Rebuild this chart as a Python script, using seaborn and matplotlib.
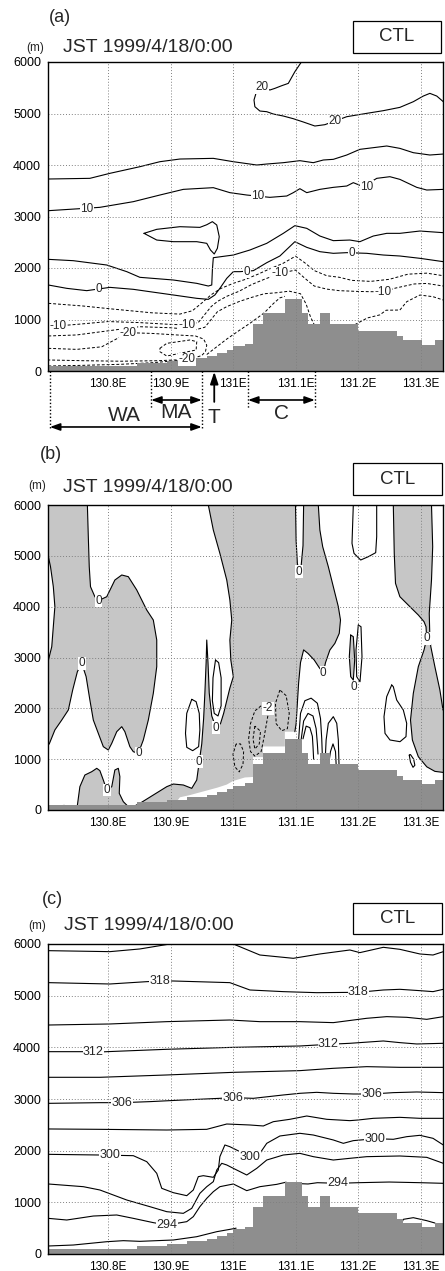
import matplotlib
matplotlib.use("Agg")
import matplotlib.pyplot as plt
from matplotlib.patches import Rectangle
import seaborn as sns

sns.set_theme(style="white")
plt.rcParams["font.family"] = ["Liberation Sans", "DejaVu Sans"]

# ---------------- axes / ticks ----------------
XLIM = (130.704, 131.336)
YLIM = (0, 6000)
XTICKS = [130.8, 130.9, 131.0, 131.1, 131.2, 131.3]
XTICK_LABELS = ["130.8E", "130.9E", "131E", "131.1E", "131.2E", "131.3E"]
YTICKS = [0, 1000, 2000, 3000, 4000, 5000, 6000]
GRID_Y = [1000, 2000, 3000, 4000, 5000]
TITLE = "JST 1999/4/18/0:00"
CASE = "CTL"
PANEL_LETTERS = ["(a)", "(b)", "(c)"]

# ---------------- terrain (step cells) ----------------
TERRAIN_EDGES = [130.704, 130.846, 130.894, 130.926, 130.958, 130.974, 130.990, 131.000,
                 131.019, 131.032, 131.048, 131.083, 131.110, 131.120, 131.139, 131.155,
                 131.200, 131.262, 131.272, 131.302, 131.323, 131.336]
TERRAIN_H = [90, 150, 200, 250, 300, 350, 415, 480, 530, 903, 1117, 1390, 1117, 903,
             1117, 903, 786, 675, 597, 513, 597]

# ---------------- panel (a) contours ----------------
A20_LON = [131.110, 131.099, 131.0885, 131.078, 131.067, 131.059, 131.0485, 131.038, 131.0336,
           131.035, 131.043, 131.054, 131.0645, 131.0805, 131.0965, 131.1125, 131.131, 131.147,
           131.182, 131.214, 131.2405, 131.267, 131.2885, 131.3045, 131.315, 131.326, 131.3365]
A20_H = [6010, 5812, 5585, 5540, 5488, 5456, 5508, 5443, 5262, 5132, 5048, 5035, 4990, 4951,
         4899, 4835, 4757, 4783, 4938, 5003, 5055, 5119, 5229, 5339, 5391, 5339, 5229]
A15_LON = [130.7045, 130.771, 130.803, 130.851, 130.883, 130.915, 130.9685, 131.0005, 131.038,
           131.054, 131.0805, 131.107, 131.1285, 131.1445, 131.1605, 131.182, 131.203, 131.246,
           131.267, 131.2885, 131.315, 131.3365]
A15_H = [3728, 3741, 3838, 3967, 4064, 4116, 4129, 4064, 4000, 4019, 4045, 4084, 4045, 4097,
         4110, 4194, 4304, 4369, 4323, 4239, 4194, 4213]
A10_LON = [130.7045, 130.755, 130.787, 130.8405, 130.883, 130.9205, 130.9685, 130.995, 131.022,
           131.059, 131.086, 131.0965, 131.107, 131.118, 131.139, 131.1605, 131.182, 131.1925,
           131.2085, 131.230, 131.251, 131.267, 131.294, 131.31, 131.3365]
A10_H = [3113, 3152, 3178, 3288, 3417, 3527, 3560, 3463, 3417, 3372, 3398, 3463, 3540, 3463,
         3527, 3566, 3592, 3657, 3579, 3741, 3773, 3721, 3566, 3514, 3527]
A5_LON = [130.7045, 130.7445, 130.798, 130.830, 130.851, 130.9045, 130.942, 130.9605, 130.966,
          130.967, 130.9685, 131.0005, 131.027, 131.054, 131.0805, 131.099, 131.118, 131.139,
          131.1605, 131.187, 131.203, 131.2245, 131.246, 131.267, 131.299, 131.3365]
A5_H = [2168, 2142, 2058, 1929, 1819, 1767, 1702, 1650, 1670, 1961, 2200, 2252, 2349, 2479,
        2673, 2822, 2770, 2621, 2531, 2543, 2511, 2621, 2673, 2673, 2718, 2686]
A5_BLOB_LON = [130.8576, 130.878, 130.915, 130.947, 130.958, 130.967, 130.974, 130.978, 130.975,
               130.970, 130.964, 130.958, 130.942, 130.9045, 130.878, 130.8576]
A5_BLOB_H = [2673, 2751, 2802, 2789, 2840, 2900, 2835, 2608, 2382, 2272, 2349, 2479, 2511,
             2511, 2543, 2673]
A0_LON = [130.7045, 130.734, 130.766, 130.803, 130.8405, 130.867, 130.9045, 130.942, 130.9605,
          130.971, 130.979, 130.990, 131.0005, 131.011, 131.0325, 131.054, 131.075, 131.099,
          131.118, 131.139, 131.1605, 131.182, 131.214, 131.2405, 131.267, 131.299, 131.3365]
A0_H = [1670, 1605, 1560, 1624, 1586, 1540, 1476, 1411, 1391, 1476, 1605, 1799, 1929, 1929,
        1948, 2103, 2233, 2511, 2401, 2317, 2285, 2298, 2285, 2252, 2233, 2188, 2123]
AM5_LON = [130.7045, 130.76, 130.81, 130.87, 130.915, 130.935, 130.95, 130.965, 130.98, 131.0,
           131.02, 131.04, 131.06, 131.08, 131.10, 131.115, 131.13, 131.15, 131.17, 131.19,
           131.22, 131.25, 131.28, 131.31, 131.3365]
AM5_H = [1314, 1262, 1200, 1130, 1105, 1170, 1320, 1480, 1600, 1700, 1780, 1880, 1990, 2090,
         2230, 2100, 1950, 1850, 1820, 1760, 1740, 1780, 1880, 1900, 1850]
AM10_LON = [130.7045, 130.75, 130.80, 130.85, 130.90, 130.93, 130.945, 130.955, 130.965,
            130.975, 130.99, 131.01, 131.03, 131.05, 131.075, 131.10, 131.115, 131.13, 131.15,
            131.17, 131.20, 131.22, 131.24, 131.26, 131.29, 131.31, 131.3365]
AM10_H = [861, 905, 960, 940, 905, 893, 950, 1100, 1250, 1350, 1450, 1550, 1680, 1780, 1896,
          1960, 1800, 1650, 1590, 1560, 1545, 1540, 1540, 1610, 1690, 1700, 1650]
AM15_LON = [130.7045, 130.75, 130.80, 130.85, 130.90, 130.94, 130.955, 130.965, 130.975, 130.99,
            131.01, 131.03, 131.05, 131.07, 131.09, 131.108, 131.117, 131.124, 131.13]
AM15_H = [680, 700, 780, 860, 840, 800, 850, 1000, 1150, 1250, 1350, 1430, 1500, 1520, 1550,
          1500, 1300, 1050, 900]
AM15R_LON = [131.195, 131.215, 131.235, 131.245, 131.267, 131.278, 131.299, 131.32, 131.3365]
AM15R_H = [900, 1030, 1090, 1180, 1184, 1346, 1475, 1443, 1378]
AM15B_LON = [130.7045, 130.76, 130.82, 130.87, 130.91, 130.94]
AM15B_H = [97, 110, 130, 160, 200, 250]
AM20_LON = [130.7045, 130.75, 130.79, 130.81, 130.8325, 130.87, 130.91, 130.94, 130.953, 130.958,
            130.956, 130.95, 130.93, 130.88, 130.82, 130.76, 130.7045]
AM20_H = [440, 420, 470, 600, 744, 730, 700, 680, 620, 500, 380, 300, 226, 200, 190, 200, 214]
AM25_LON = [130.883, 130.894, 130.931, 130.942, 130.941, 130.915, 130.894, 130.883, 130.883]
AM25_H = [440, 537, 602, 570, 408, 343, 291, 375, 440]
AM_SLOPE_LON = [130.958, 130.975, 130.99, 131.011, 131.027, 131.04, 131.05, 131.065, 131.075, 131.083]
AM_SLOPE_H = [320, 480, 620, 796, 925, 1040, 1130, 1314, 1420, 1450]

A_LABELS = ["20", "20", "10", "10", "10", "0", "0", "0", "-10", "-10", "-10", "-10", "-20", "-20"]
A_LABEL_LON = [131.046, 131.163, 130.766, 131.040, 131.214, 130.785, 131.022, 131.190,
               130.7205, 130.926, 131.075, 131.2405, 130.8325, 130.926]
A_LABEL_H = [5510, 4850, 3155, 3400, 3580, 1600, 1929, 2295, 874, 893, 1896, 1540, 744, 226]

# ---------------- panel (b) ----------------
B_S1_MAIN_LON = [130.767, 130.7685, 130.770, 130.772, 130.779, 130.7845, 130.798, 130.811, 130.822,
                 130.8325, 130.846, 130.862, 130.8725, 130.878, 130.878, 130.8725, 130.8645,
                 130.8565, 130.8485, 130.8405, 130.835, 130.827, 130.822, 130.814, 130.806,
                 130.8005, 130.7925, 130.7845, 130.7765, 130.771, 130.765, 130.758, 130.751,
                 130.7435, 130.7365, 130.726, 130.715, 130.706, 130.704]
B_S1_MAIN_H = [6000, 5377, 4787, 4393, 4196, 4118, 4196, 4524, 4623, 4590, 4328, 3934, 3737,
               3344, 2820, 2295, 1770, 1377, 1115, 1147, 1246, 1541, 1639, 1541, 1311, 1180,
               1246, 1508, 1770, 2164, 2623, 2885, 2721, 2361, 1967, 1770, 1574, 1300, 1279]
B_S1_SLIVER_LON = [130.704, 130.710, 130.7125, 130.715, 130.7125, 130.708, 130.704]
B_S1_SLIVER_H = [2918, 3213, 3606, 4000, 4393, 4787, 5016]
B_S1B_LON = [130.750, 130.755, 130.763, 130.774, 130.782, 130.787, 130.7925, 130.798, 130.806,
             130.811, 130.8165, 130.819, 130.818, 130.8245, 130.8325, 130.838]
B_S1B_H = [0, 459, 688, 754, 820, 774, 590, 393, 459, 787, 820, 656, 328, 164, 66, 0]
B_S1C_LON = [130.704, 130.716, 130.730, 130.740, 130.745]
B_S1C_H = [65, 75, 90, 55, 0]

B_S2_NOTCH_LON = [131.100, 131.101, 131.103, 131.106, 131.109, 131.112, 131.113]
B_S2_NOTCH_H = [6000, 5300, 4850, 4690, 4800, 5200, 6000]
B_S2_RIGHT_LON = [131.1365, 131.139, 131.1435, 131.1525, 131.1605, 131.1685, 131.172, 131.170,
                  131.163, 131.155, 131.148, 131.1445, 131.138, 131.130, 131.120, 131.113,
                  131.108, 131.105, 131.103, 131.101, 131.099]
B_S2_RIGHT_H = [6000, 5508, 5180, 4787, 4393, 4000, 3737, 3475, 3278, 3147, 2900, 2700, 2800,
                2950, 3080, 3150, 2900, 2500, 2100, 1700, 1540]
B_S2_BAND_LON = [131.083, 131.083, 131.048, 131.048, 131.032, 131.032, 131.019, 131.000, 130.990,
                 130.975, 130.960, 130.945, 130.930, 130.915, 130.900]
B_S2_BAND_H = [1540, 1250, 1250, 1040, 1040, 650, 640, 570, 500, 440, 390, 340, 290, 250, 0]
B_S2_LEFT_LON = [130.835, 130.851, 130.8725, 130.894, 130.9045, 130.9205, 130.934, 130.942,
                 130.946, 130.950, 130.953, 130.955, 130.957, 130.958, 130.960, 130.962, 130.966,
                 130.9728, 130.980, 130.985, 130.990, 130.995, 131.0005, 130.9965, 130.995,
                 130.998, 130.995, 130.990, 130.979, 130.9685, 130.9605]
B_S2_LEFT_H = [33, 131, 295, 459, 511, 492, 426, 590, 951, 1300, 1800, 2300, 2900, 3344, 2900,
               2300, 1850, 1620, 1700, 1900, 2150, 2400, 2623, 2951, 3344, 3737, 4131, 4524,
               5049, 5508, 6000]

B_S3_LEFT_LON = [131.2565, 131.258, 131.260, 131.267, 131.283, 131.2965, 131.3056, 131.3088,
                 131.310, 131.3056, 131.2965, 131.2885, 131.284, 131.287, 131.2965, 131.310,
                 131.323, 131.336]
B_S3_LEFT_H = [6000, 5049, 4459, 4196, 4000, 3836, 3705, 3606, 3377, 3147, 2820, 2295, 1770,
               1377, 1049, 850, 760, 740]
B_S3_RIGHT_LON = [131.336, 131.331, 131.323, 131.3165, 131.315, 131.314, 131.3176, 131.3195, 131.3176]
B_S3_RIGHT_H = [1967, 2361, 2820, 3213, 3377, 3869, 4524, 5180, 6000]

B_T1_LON = [131.1883, 131.1861, 131.1883, 131.1925, 131.1947, 131.1925, 131.1883]
B_T1_H = [3442, 3016, 2623, 2557, 2951, 3410, 3442]

# solid (positive / zero) loops in white areas
B_LOOP_TOP_LON = [131.1925, 131.1904, 131.1936, 131.2043, 131.2165, 131.2283, 131.2299, 131.2299]
B_LOOP_TOP_H = [6000, 5246, 5049, 4918, 4983, 5062, 5377, 6000]
B_LOOP_R_LON = [131.2539, 131.2459, 131.2416, 131.2432, 131.2512, 131.2672, 131.2768, 131.2779,
                131.2725, 131.2619, 131.2565, 131.2539]
B_LOOP_R_H = [2459, 2229, 1836, 1508, 1377, 1344, 1443, 1705, 1967, 2164, 2426, 2459]
B_LOOP_S_LON = [131.282, 131.284, 131.288, 131.291, 131.289, 131.284, 131.282]
B_LOOP_S_H = [1080, 940, 840, 880, 1000, 1090, 1080]
B_T2_LON = [131.2005, 131.1968, 131.1979, 131.2032, 131.2064, 131.2048, 131.2005]
B_T2_H = [3639, 3147, 2623, 2524, 3016, 3606, 3639]
B_W1_LON = [130.934, 130.941, 130.946, 130.947, 130.945, 130.9355, 130.926, 130.924, 130.926, 130.934]
B_W1_H = [2177, 2131, 1902, 1574, 1246, 1167, 1233, 1508, 1902, 2177]
B_L1_LON = [130.972, 130.968, 130.967, 130.970, 130.976, 130.981, 130.981, 130.977, 130.972]
B_L1_H = [2950, 2600, 2150, 1900, 1850, 2050, 2600, 2900, 2950]
B_ARC1_LON = [131.105, 131.108, 131.115, 131.125, 131.135, 131.140, 131.142, 131.143]
B_ARC1_H = [1380, 1900, 2150, 2200, 2100, 1800, 1400, 1050]
B_ARC2_LON = [131.109, 131.113, 131.120, 131.128, 131.133, 131.135, 131.136]
B_ARC2_H = [1380, 1750, 1900, 1850, 1600, 1300, 1100]
B_ARC3_LON = [131.112, 131.117, 131.123, 131.127, 131.128, 131.129]
B_ARC3_H = [1400, 1650, 1620, 1450, 1250, 1000]
B_ARC4_LON = [131.147, 131.149, 131.1525, 131.1605, 131.166, 131.1685, 131.1696]
B_ARC4_H = [852, 1377, 1705, 1836, 1705, 1377, 900]
B_ARC5_LON = [131.153, 131.156, 131.160, 131.164, 131.165]
B_ARC5_H = [900, 1150, 1300, 1150, 900]

# dashed (negative) loops
B_DL1_LON = [131.045, 131.035, 131.028, 131.025, 131.028, 131.035, 131.045, 131.050, 131.055, 131.058, 131.045]
B_DL1_H = [2050, 1950, 1700, 1400, 1150, 1060, 1150, 1450, 1800, 2000, 2050]
B_DL2_LON = [131.035, 131.032, 131.035, 131.042, 131.044, 131.035]
B_DL2_H = [1650, 1400, 1200, 1300, 1550, 1650]
B_DL3_LON = [131.005, 131.000, 131.003, 131.010, 131.016, 131.017, 131.012, 131.005]
B_DL3_H = [1300, 1100, 850, 750, 900, 1150, 1300, 1300]
B_DL4_LON = [131.075, 131.068, 131.069, 131.078, 131.087, 131.090, 131.085, 131.075]
B_DL4_H = [2360, 2100, 1700, 1560, 1600, 1900, 2250, 2360]

B_LABELS = ["0", "0", "0", "0", "0", "0", "-2", "0", "0", "0", "0"]
B_LABEL_LON = [130.7845, 130.758, 130.8485, 130.798, 130.946, 130.9728, 131.056, 131.106,
               131.1445, 131.1936, 131.310]
B_LABEL_H = [4118, 2885, 1115, 393, 951, 1620, 2000, 4690, 2700, 2413, 3377]

# ---------------- panel (c) potential temperature ----------------
C321_LON = [130.7045, 130.803, 130.851, 130.899, 130.95, 131.0005, 131.043, 131.0965, 131.139,
            131.187, 131.203, 131.2405, 131.267, 131.299, 131.32, 131.3365]
C321_H = [5871, 5852, 5904, 6000, 6080, 6000, 5787, 5723, 5807, 5884, 5833, 5936, 5897, 5807, 5787, 5852]
C318_LON = [130.7045, 130.803, 130.862, 130.883, 130.9045, 130.995, 131.027, 131.0805, 131.134,
            131.2005, 131.2405, 131.267, 131.299, 131.32, 131.3365]
C318_H = [5252, 5226, 5271, 5284, 5284, 5252, 5110, 5078, 5058, 5065, 5110, 5123, 5097, 5078, 5123]
C315_LON = [130.7045, 130.803, 130.894, 130.995, 131.043, 131.107, 131.1605, 131.214, 131.246,
            131.278, 131.31, 131.3365]
C315_H = [4432, 4452, 4497, 4529, 4497, 4497, 4478, 4562, 4594, 4581, 4542, 4594]
C312_LON = [130.7045, 130.7605, 130.7765, 130.798, 130.894, 131.0005, 131.107, 131.1525, 131.187,
            131.2405, 131.267, 131.294, 131.3365]
C312_H = [3916, 3916, 3903, 3916, 3962, 4000, 4026, 4058, 4078, 4123, 4091, 4065, 4078]
C309_LON = [130.7045, 130.787, 130.894, 131.0005, 131.107, 131.1605, 131.214, 131.267, 131.3365]
C309_H = [3420, 3420, 3465, 3516, 3549, 3594, 3626, 3613, 3613]
C306_LON = [130.7045, 130.787, 130.822, 130.867, 130.9205, 130.979, 131.0005, 131.0325, 131.0805,
            131.107, 131.134, 131.1605, 131.1925, 131.222, 131.2565, 131.294, 131.3365]
C306_H = [2916, 2929, 2929, 2949, 2981, 3013, 3026, 3013, 3078, 3110, 3129, 3110, 3097, 3097,
          3123, 3136, 3123]
C303_LON = [130.7045, 130.787, 130.894, 130.958, 130.990, 131.027, 131.0485, 131.0645, 131.091,
            131.118, 131.150, 131.187, 131.2005, 131.2245, 131.267, 131.299, 131.3365]
C303_H = [2420, 2413, 2400, 2413, 2516, 2497, 2478, 2561, 2607, 2671, 2607, 2581, 2594, 2626,
          2645, 2626, 2626]
C300_LON = [130.7045, 130.787, 130.8405, 130.862, 130.878, 130.886, 130.9045, 130.926, 130.9365,
            130.9445, 130.9525, 130.9685, 130.9765, 130.979, 130.987, 130.995, 131.011, 131.027,
            131.043, 131.054, 131.075, 131.107, 131.1285, 131.1605, 131.1765, 131.1925, 131.227,
            131.2565, 131.278, 131.299, 131.32, 131.3365]
C300_H = [1929, 1916, 1903, 1787, 1561, 1271, 1187, 1129, 1239, 1497, 1516, 1484, 1626, 1884,
          2110, 2077, 1981, 1884, 1948, 2142, 2284, 2336, 2303, 2207, 2142, 2194, 2232, 2220,
          2271, 2297, 2239, 2110]
C297_LON = [130.7045, 130.7605, 130.787, 130.830, 130.867, 130.894, 130.9205, 130.934, 130.947,
            130.958, 130.9685, 130.974, 130.982, 130.990, 131.0005, 131.022, 131.038, 131.054,
            131.0805, 131.107, 131.1285, 131.1605, 131.187, 131.214, 131.267, 131.31, 131.3365]
C297_H = [1355, 1303, 1239, 1045, 916, 819, 787, 884, 1174, 1303, 1400, 1626, 1755, 1723, 1658,
          1529, 1658, 1819, 1916, 1948, 1884, 1819, 1852, 1884, 1897, 1871, 1755]
C294_LON = [130.7045, 130.734, 130.7765, 130.814, 130.8405, 130.8725, 130.894, 130.926, 130.9365,
            130.947, 130.958, 130.9685, 130.979, 131.0005, 131.022, 131.043, 131.07, 131.085]
C294_H = [690, 658, 735, 755, 690, 607, 561, 626, 723, 916, 1077, 1206, 1303, 1355, 1226, 1303,
          1348, 1390]
C294R_LON = [131.11, 131.12, 131.135, 131.168, 131.2, 131.25, 131.3, 131.3365]
C294R_H = [1360, 1355, 1380, 1368, 1380, 1393, 1380, 1368]
C291_LON = [130.7045, 130.7445, 130.798, 130.8245, 130.851, 130.9045, 130.942, 130.974, 130.995, 131.005]
C291_H = [155, 174, 238, 258, 245, 271, 335, 432, 477, 500]
C291R_LON = [131.27, 131.2725, 131.2885, 131.31, 131.323]
C291R_H = [600, 671, 703, 645, 600]

C_LABELS = ["318", "318", "312", "312", "306", "306", "306", "300", "300", "300", "294", "294"]
C_LABEL_LON = [130.883, 131.2005, 130.7765, 131.1525, 130.822, 131.0005, 131.222, 130.803,
               131.027, 131.227, 130.894, 131.168]
C_LABEL_H = [5284, 5065, 3903, 4058, 2929, 3026, 3097, 1922, 1884, 2232, 561, 1368]

# ---------------- annotation regions below panel (a) ----------------
WA_SPAN = [130.707, 130.950]
MA_SPAN = [130.869, 130.950]
C_SPAN = [131.024, 131.131]
T_LON = 130.970

# ---------------- styling ----------------
W, H = 445, 1271
SHADE = "#c6c6c6"
TERRAIN_COLOR = "#8e8e8e"
DASH = (0, (3.0, 2.0))


def fx(px):
    return px / W


def fy(py):
    return 1 - py / H


def cline(ax, lon, h, dashed=False, lw=0.8):
    kw = dict(linestyle=DASH) if dashed else {}
    sns.lineplot(x=lon, y=h, sort=False, estimator=None, errorbar=None, color="black",
                 linewidth=lw, ax=ax, legend=False, zorder=3, **kw)


def clabels(ax, texts, lons, hs, fs=8.5):
    for t, x, y in zip(texts, lons, hs):
        ax.text(x, y, t, ha="center", va="center", fontsize=fs, zorder=9,
                bbox=dict(facecolor="white", edgecolor="none", pad=0.3))


def terrain(ax):
    ax.stairs(TERRAIN_H, TERRAIN_EDGES, fill=True, color=TERRAIN_COLOR, baseline=0, zorder=5)


def frame(ax):
    ax.set_xlim(*XLIM)
    ax.set_ylim(*YLIM)
    ax.set_xticks(XTICKS)
    ax.set_xticklabels(XTICK_LABELS, fontsize=8.5)
    ax.set_yticks(YTICKS)
    ax.set_yticklabels([str(v) for v in YTICKS], fontsize=9)
    ax.set_xlabel("")
    ax.set_ylabel("")
    ax.tick_params(axis="both", direction="out", length=3, width=0.8, pad=2, colors="black")
    ax.tick_params(axis="x", length=0, pad=5)
    for s in ax.spines.values():
        s.set_color("black")
        s.set_linewidth(1.0)
        s.set_zorder(10)
    for x in XTICKS:
        ax.axvline(x, color="#808080", linestyle=(0, (1, 2)), linewidth=0.7, zorder=6)
    for y in GRID_Y:
        ax.axhline(y, color="#808080", linestyle=(0, (1, 2)), linewidth=0.7, zorder=6)


def header(fig, letter, letter_xy, m_xy, title_xy, box):
    fig.text(fx(letter_xy[0]), fy(letter_xy[1]), letter, ha="center", va="center", fontsize=13)
    fig.text(fx(m_xy[0]), fy(m_xy[1]), "(m)", ha="center", va="center", fontsize=8.5)
    fig.text(fx(title_xy[0]), fy(title_xy[1]), TITLE, ha="left", va="center", fontsize=14)
    x0, y0, x1, y1 = box
    fig.patches.append(Rectangle((fx(x0), fy(y1)), fx(x1) - fx(x0), fy(y0) - fy(y1),
                                 transform=fig.transFigure, facecolor="white",
                                 edgecolor="black", linewidth=0.9))
    fig.text(fx((x0 + x1) / 2), fy((y0 + y1) / 2), CASE, ha="center", va="center", fontsize=13.5)


fig = plt.figure(figsize=(W / 100, H / 100), dpi=100)
fig.patch.set_facecolor("white")

# axes pixel boxes (left, top, right, bottom)
ax_a = fig.add_axes([fx(48), fy(371), fx(443) - fx(48), fy(62) - fy(371)])
ax_b = fig.add_axes([fx(48), fy(810), fx(443) - fx(48), fy(505) - fy(810)])
ax_c = fig.add_axes([fx(48), fy(1254), fx(443) - fx(48), fy(944) - fy(1254)])

# ---------------- panel (a) ----------------
ax = ax_a
for lon, h in [(A20_LON, A20_H), (A15_LON, A15_H), (A10_LON, A10_H), (A5_LON, A5_H),
               (A5_BLOB_LON, A5_BLOB_H), (A0_LON, A0_H)]:
    cline(ax, lon, h)
for lon, h in [(AM5_LON, AM5_H), (AM10_LON, AM10_H), (AM15_LON, AM15_H), (AM15R_LON, AM15R_H),
               (AM15B_LON, AM15B_H), (AM20_LON, AM20_H), (AM25_LON, AM25_H),
               (AM_SLOPE_LON, AM_SLOPE_H)]:
    cline(ax, lon, h, dashed=True, lw=0.7)
terrain(ax)
frame(ax)
clabels(ax, A_LABELS, A_LABEL_LON, A_LABEL_H)

# region markers under panel (a)
depth_long, depth_short = -1146, -740
for x, d in [(WA_SPAN[0], depth_long), (MA_SPAN[0], depth_short), (WA_SPAN[1], depth_long),
             (C_SPAN[0], depth_short), (C_SPAN[1], depth_short)]:
    ax.plot([x, x], [0, d], color="black", linestyle=(0, (1, 1.5)), linewidth=1.0, clip_on=False)
arrow_kw = dict(arrowstyle="<|-|>,head_length=0.5,head_width=0.18", color="black", lw=1.2,
                shrinkA=0, shrinkB=0)
ax.annotate("", xy=(WA_SPAN[0], -1087), xytext=(WA_SPAN[1], -1087), arrowprops=arrow_kw,
            annotation_clip=False)
ax.annotate("", xy=(MA_SPAN[0], -563), xytext=(MA_SPAN[1], -563), arrowprops=arrow_kw,
            annotation_clip=False)
ax.annotate("", xy=(C_SPAN[0], -563), xytext=(C_SPAN[1], -563), arrowprops=arrow_kw,
            annotation_clip=False)
ax.annotate("", xy=(T_LON, -15), xytext=(T_LON, -600),
            arrowprops=dict(arrowstyle="-|>,head_length=0.6,head_width=0.2", color="black", lw=1.3,
                            shrinkA=0, shrinkB=0), annotation_clip=False)
for t, x, y in [("WA", (WA_SPAN[0] + WA_SPAN[1]) / 2 - 0.003, -860),
                ("MA", (MA_SPAN[0] + MA_SPAN[1]) / 2, -800),
                ("T", T_LON, -895),
                ("C", (C_SPAN[0] + C_SPAN[1]) / 2, -820)]:
    ax.text(x, y, t, ha="center", va="center", fontsize=15, clip_on=False)

# ---------------- panel (b) ----------------
ax = ax_b
corner = (XLIM[0], YLIM[1])
s1_x = [corner[0]] + B_S1_MAIN_LON + B_S1_SLIVER_LON
s1_y = [corner[1]] + B_S1_MAIN_H + B_S1_SLIVER_H
ax.fill(s1_x, s1_y, color=SHADE, linewidth=0, zorder=1)
ax.fill(B_S1B_LON, B_S1B_H, color=SHADE, linewidth=0, zorder=1)
ax.fill(B_S1C_LON + [XLIM[0]], B_S1C_H + [0], color=SHADE, linewidth=0, zorder=1)
s2_x = B_S2_NOTCH_LON + B_S2_RIGHT_LON + B_S2_BAND_LON + B_S2_LEFT_LON
s2_y = B_S2_NOTCH_H + B_S2_RIGHT_H + B_S2_BAND_H + B_S2_LEFT_H
ax.fill(s2_x, s2_y, color=SHADE, linewidth=0, zorder=1)
ax.fill(B_S3_LEFT_LON + B_S3_RIGHT_LON, B_S3_LEFT_H + B_S3_RIGHT_H, color=SHADE, linewidth=0, zorder=1)
ax.fill(B_T1_LON, B_T1_H, color=SHADE, linewidth=0, zorder=1)
ax.fill(B_W1_LON, B_W1_H, color="white", linewidth=0, zorder=1.5)

for lon, h in [(B_S1_MAIN_LON, B_S1_MAIN_H), (B_S1_SLIVER_LON, B_S1_SLIVER_H),
               (B_S1B_LON, B_S1B_H), (B_S1C_LON, B_S1C_H),
               (B_S2_NOTCH_LON, B_S2_NOTCH_H), (B_S2_RIGHT_LON, B_S2_RIGHT_H),
               (B_S2_LEFT_LON, B_S2_LEFT_H), (B_S3_LEFT_LON, B_S3_LEFT_H),
               (B_S3_RIGHT_LON, B_S3_RIGHT_H), (B_T1_LON, B_T1_H),
               (B_LOOP_TOP_LON, B_LOOP_TOP_H), (B_LOOP_R_LON, B_LOOP_R_H),
               (B_LOOP_S_LON, B_LOOP_S_H), (B_T2_LON, B_T2_H), (B_W1_LON, B_W1_H),
               (B_L1_LON, B_L1_H), (B_ARC1_LON, B_ARC1_H), (B_ARC2_LON, B_ARC2_H),
               (B_ARC3_LON, B_ARC3_H), (B_ARC4_LON, B_ARC4_H), (B_ARC5_LON, B_ARC5_H)]:
    cline(ax, lon, h)
for lon, h in [(B_DL1_LON, B_DL1_H), (B_DL2_LON, B_DL2_H), (B_DL3_LON, B_DL3_H),
               (B_DL4_LON, B_DL4_H)]:
    cline(ax, lon, h, dashed=True, lw=0.7)
terrain(ax)
frame(ax)
clabels(ax, B_LABELS, B_LABEL_LON, B_LABEL_H)

# ---------------- panel (c) ----------------
ax = ax_c
for lon, h in [(C321_LON, C321_H), (C318_LON, C318_H), (C315_LON, C315_H), (C312_LON, C312_H),
               (C309_LON, C309_H), (C306_LON, C306_H), (C303_LON, C303_H), (C300_LON, C300_H),
               (C297_LON, C297_H), (C294_LON, C294_H), (C294R_LON, C294R_H),
               (C291_LON, C291_H), (C291R_LON, C291R_H)]:
    cline(ax, lon, h)
terrain(ax)
frame(ax)
clabels(ax, C_LABELS, C_LABEL_LON, C_LABEL_H, fs=9)

# ---------------- headers ----------------
header(fig, PANEL_LETTERS[0], (60, 17), (35, 48), (63, 47.5), (352.7, 20.7, 440.7, 52.7))
header(fig, PANEL_LETTERS[1], (51, 455), (37, 486), (63, 487), (353, 463, 442, 495))
header(fig, PANEL_LETTERS[2], (52, 899), (37, 926), (64, 926), (353, 903, 442, 934))

fig.savefig("out.png", dpi=100, facecolor="white")
